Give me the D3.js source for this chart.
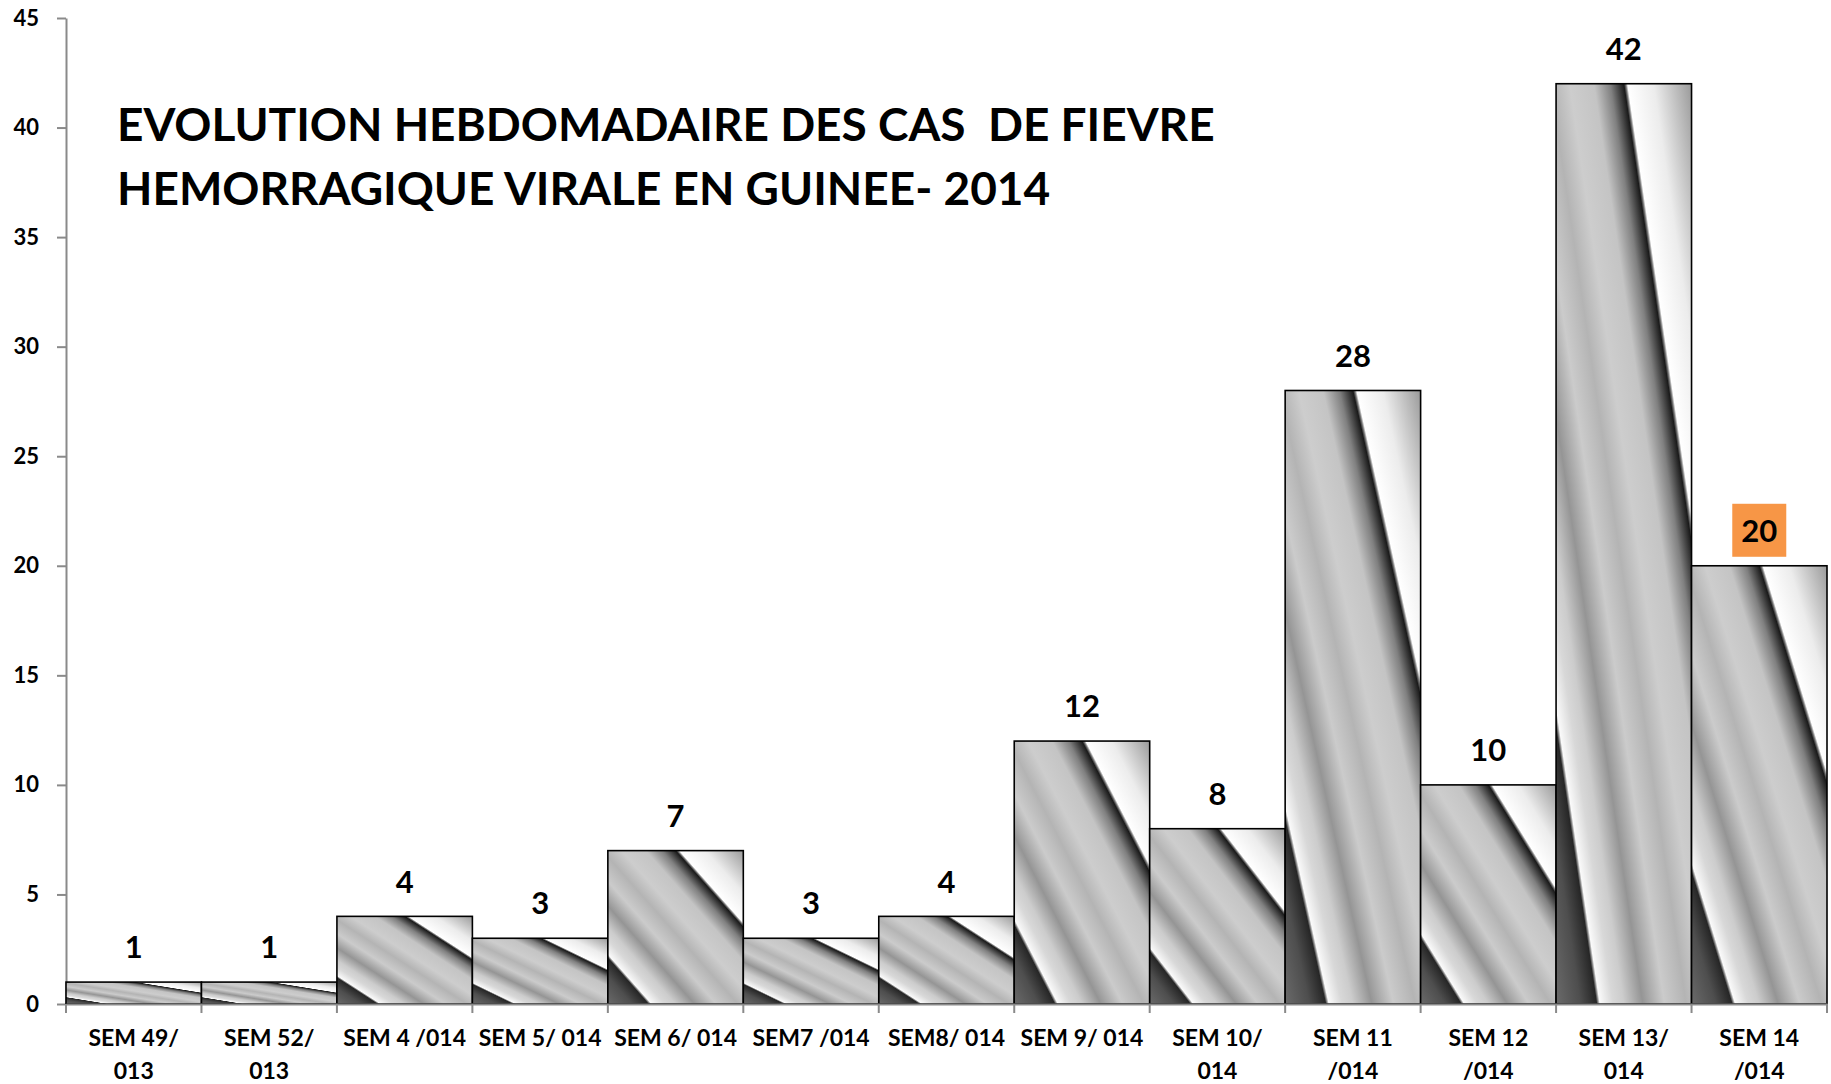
<!DOCTYPE html>
<html>
<head>
<meta charset="utf-8">
<script src="https://cdn.jsdelivr.net/npm/d3@7"></script>
<style>
  body { margin: 0; background: #fff; }
  svg { display: block; font-family: Lato, "Open Sans", sans-serif; font-weight: bold; }
</style>
</head>
<body>
<svg id="chart" width="1831" height="1084"></svg>
<script>
// weekly cases, Guinea 2014
var weeks = ["SEM 49/\n013", "SEM 52/\n013", "SEM 4 /014", "SEM 5/ 014", "SEM 6/ 014",
             "SEM7 /014", "SEM8/ 014", "SEM 9/ 014", "SEM 10/\n014", "SEM 11\n/014",
             "SEM 12\n/014", "SEM 13/\n014", "SEM 14\n/014"];
var cases = [1, 1, 4, 3, 7, 3, 4, 12, 8, 28, 10, 42, 20];
var yTicks = [0, 5, 10, 15, 20, 25, 30, 35, 40, 45];
var highlighted = ["SEM 14\n/014"];
var titleLines = ["EVOLUTION HEBDOMADAIRE DES CAS  DE FIEVRE",
                  "HEMORRAGIQUE VIRALE EN GUINEE- 2014"];

var svg = d3.select("#chart");
var plotLeft = 66, plotRight = 1827, plotTop = 18, plotBottom = 1004;

var x = d3.scaleBand().domain(weeks).range([plotLeft, plotRight]).padding(0);
var y = d3.scaleLinear().domain([0, 45]).range([plotBottom, plotTop]);

// chrome-like fill, stripes follow each bar's diagonal
var grad = svg.append("defs").append("linearGradient")
    .attr("id", "chrome")
    .attr("x1", 0).attr("y1", 1).attr("x2", 1).attr("y2", 0);
var stops = [
    [0, "#6a6a6a"], [0.09, "#4e4e4e"], [0.15, "#262626"], [0.156, "#8a8a8a"],
    [0.162, "#fafafa"], [0.21, "#d8d8d8"], [0.25, "#cccccc"], [0.32, "#959595"],
    [0.4, "#cbcbcb"], [0.48, "#b4b4b4"], [0.55, "#cdcdcd"], [0.64, "#c4c4c4"],
    [0.7, "#808080"], [0.75, "#1a1a1a"], [0.757, "#777"], [0.764, "#ffffff"],
    [0.86, "#ececec"], [1, "#9a9a9a"]
];
stops.forEach(function(s) {
    grad.append("stop").attr("offset", s[0]).attr("stop-color", s[1]);
});

// y axis
var yAxis = svg.append("g")
    .attr("transform", "translate(" + plotLeft + ",0)")
    .call(d3.axisLeft(y).tickValues(yTicks).tickSize(9).tickSizeOuter(0).tickPadding(18));
yAxis.select(".domain").attr("stroke", "#8a8a8a").attr("stroke-width", 2);
yAxis.selectAll(".tick line").attr("stroke", "#8a8a8a").attr("stroke-width", 2);
yAxis.selectAll(".tick text")
    .attr("fill", "#000").style("font-size", "22px").style("font-family", "Lato").style("font-weight", "bold");

// bars
svg.append("g").selectAll("rect")
    .data(weeks)
    .enter().append("rect")
    .attr("x", function(d) { return x(d); })
    .attr("y", function(d, i) { return y(cases[i]); })
    .attr("width", x.bandwidth())
    .attr("height", function(d, i) { return y(0) - y(cases[i]); })
    .attr("fill", "url(#chrome)")
    .attr("stroke", "#000")
    .attr("stroke-width", 1.6);

// x axis line + boundary ticks
var xAxis = svg.append("g")
    .attr("transform", "translate(0," + plotBottom + ")")
    .call(d3.axisBottom(x).tickSize(0).tickSizeOuter(0).tickFormat(""));
xAxis.select(".domain").attr("stroke", "#8a8a8a").attr("stroke-width", 2);
var bounds = weeks.map(function(d) { return x(d); }).concat([x.range()[1]]);
svg.append("g").selectAll("line")
    .data(bounds)
    .enter().append("line")
    .attr("x1", function(d) { return d; }).attr("x2", function(d) { return d; })
    .attr("y1", plotBottom).attr("y2", plotBottom + 9)
    .attr("stroke", "#8a8a8a").attr("stroke-width", 2);

// category labels
var labels = svg.append("g").selectAll("text")
    .data(weeks)
    .enter().append("text")
    .attr("text-anchor", "middle")
    .style("font-size", "23px")
    .attr("x", function(d) { return x(d) + x.bandwidth() / 2; })
    .attr("y", 1046);
labels.each(function(d) {
    var t = d3.select(this);
    d.split("\n").forEach(function(line, k) {
        t.append("tspan")
            .attr("x", x(d) + x.bandwidth() / 2)
            .attr("dy", k == 0 ? 0 : 33)
            .text(line);
    });
});

// value labels
var vl = svg.append("g").selectAll("g")
    .data(weeks)
    .enter().append("g")
    .attr("transform", function(d, i) {
        return "translate(" + (x(d) + x.bandwidth() / 2) + "," + (y(cases[i]) - 35) + ")";
    });
vl.filter(function(d) { return highlighted.indexOf(d) >= 0; })
    .append("rect")
    .attr("x", -27).attr("y", -27)
    .attr("width", 54).attr("height", 53)
    .attr("fill", "#f79646");
vl.append("text")
    .attr("text-anchor", "middle")
    .attr("dy", "0.36em")
    .style("font-size", "31px")
    .text(function(d, i) { return cases[i]; });

// title
svg.append("g").selectAll("text")
    .data(titleLines)
    .enter().append("text")
    .attr("x", 117)
    .attr("y", function(d, i) { return 141 + i * 64; })
    .style("font-size", "46px")
    .style("white-space", "pre")
    .text(function(d) { return d; });
</script>
</body>
</html>
